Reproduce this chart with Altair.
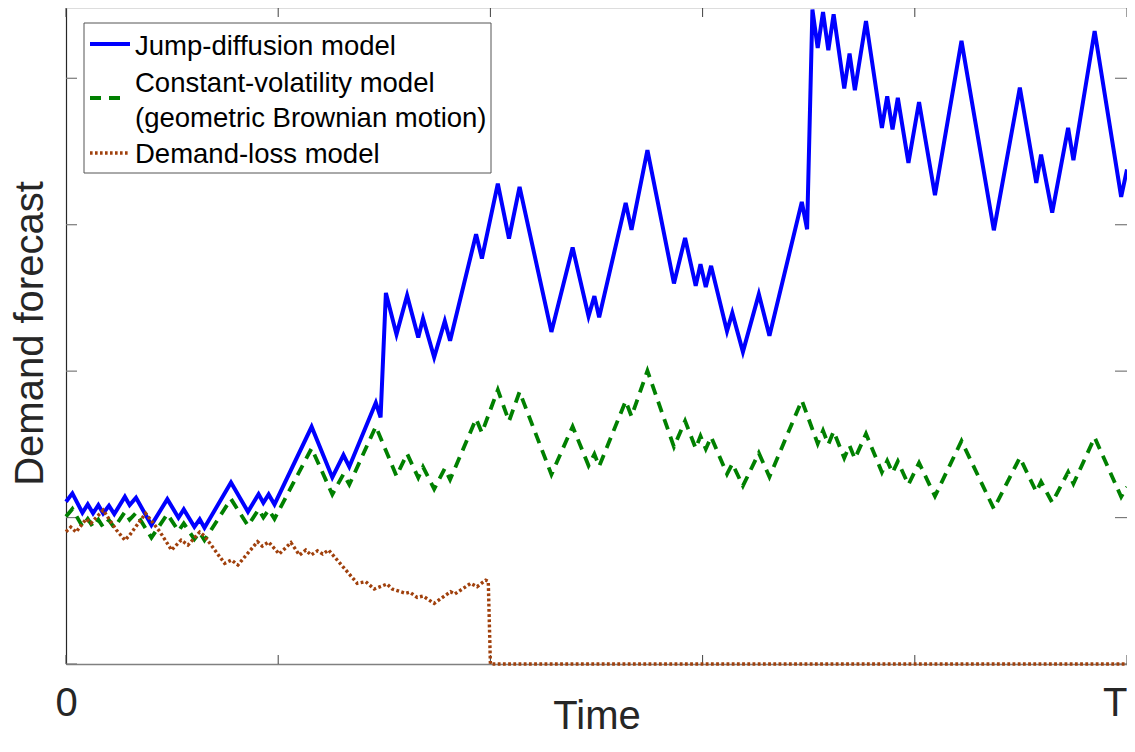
import altair as alt
import pandas as pd

# ---- data (time in steps 0..200, T = 200; values in demand units) ----
blue_t = [0, 1.2, 3.1, 4.1, 5.1, 6.1, 7.0, 8.1, 9.1, 11.1, 12.0, 13.2, 16.1, 19.1, 21.2, 22.2,
          24.2, 25.2, 26.1, 31.1, 34.3, 36.3, 37.2, 38.2, 39.3, 46.3, 50.2, 52.3, 53.4, 58.4,
          59.3, 60.3, 62.3, 64.3, 66.4, 67.3, 69.4, 71.4, 72.4, 77.3, 78.4, 81.4, 83.5, 85.5,
          91.5, 95.5, 98.5, 99.6, 100.5, 105.5, 106.6, 109.6, 114.6, 116.7, 118.7, 119.6, 120.6,
          121.6, 124.6, 125.6, 127.6, 130.6, 132.6, 138.7, 139.7, 140.7, 141.7, 142.7, 143.7,
          144.7, 146.7, 147.7, 148.7, 150.8, 153.8, 154.8, 155.8, 156.8, 158.8, 160.8, 163.8,
          168.8, 174.9, 179.8, 182.9, 183.8, 185.9, 188.9, 189.9, 193.9, 198.9, 200]
blue_v = [1.108, 1.165, 1.033, 1.090, 1.029, 1.085, 1.029, 1.081, 1.024, 1.142, 1.085, 1.135,
          0.949, 1.126, 0.999, 1.056, 0.937, 0.988, 0.930, 1.240, 1.040, 1.160, 1.101, 1.158,
          1.090, 1.620, 1.274, 1.427, 1.347, 1.784, 1.684, 2.534, 2.251, 2.517, 2.230, 2.360,
          2.094, 2.341, 2.207, 2.935, 2.769, 3.281, 2.906, 3.258, 2.268, 2.844, 2.375, 2.512,
          2.367, 3.149, 2.965, 3.509, 2.599, 2.910, 2.582, 2.730, 2.575, 2.719, 2.273, 2.398,
          2.132, 2.526, 2.241, 3.156, 2.969, 4.469, 4.207, 4.453, 4.191, 4.437, 3.930, 4.169,
          3.918, 4.391, 3.661, 3.877, 3.650, 3.866, 3.422, 3.838, 3.201, 4.255, 2.962, 3.937,
          3.285, 3.479, 3.083, 3.661, 3.440, 4.323, 3.190, 3.377]

green_t = [0, 1.2, 3.1, 4.1, 5.1, 6.1, 7.0, 8.1, 9.1, 11.1, 12.0, 13.2, 16.1, 19.1, 21.2, 22.2,
           24.2, 25.2, 26.1, 31.1, 34.3, 36.3, 37.2, 38.2, 39.3, 46.3, 50.2, 52.3, 53.4, 58.4,
           62.3, 64.3, 66.4, 67.3, 69.4, 71.4, 72.4, 77.3, 78.4, 81.4, 83.5, 85.5,
           91.5, 95.5, 98.5, 99.6, 100.5, 105.5, 106.6, 109.6, 114.6, 116.7, 118.7, 119.6, 120.6,
           121.6, 124.6, 125.6, 127.6, 130.6, 132.6, 138.7, 141.7, 142.7, 143.7,
           144.7, 146.7, 147.7, 148.7, 150.8, 153.8, 154.8, 155.8, 156.8, 158.8, 160.8, 163.8,
           168.8, 174.9, 179.8, 182.9, 183.8, 185.9, 188.9, 189.9, 193.9, 198.9, 200]
green_v = [1.007, 1.059, 0.939, 0.991, 0.935, 0.986, 0.935, 0.983, 0.931, 1.038, 0.986, 1.032,
           0.863, 1.024, 0.908, 0.960, 0.852, 0.898, 0.845, 1.127, 0.945, 1.055, 1.001, 1.053,
           0.991, 1.473, 1.158, 1.297, 1.225, 1.622, 1.284, 1.436, 1.272, 1.346,
           1.195, 1.335, 1.259, 1.674, 1.580, 1.872, 1.658, 1.859, 1.294, 1.622, 1.355, 1.433,
           1.350, 1.796, 1.691, 2.002, 1.483, 1.660, 1.473, 1.557, 1.469, 1.551, 1.297, 1.368,
           1.216, 1.441, 1.278, 1.800, 1.505, 1.594, 1.500, 1.588, 1.407, 1.492,
           1.402, 1.572, 1.310, 1.388, 1.306, 1.384, 1.225, 1.374, 1.146, 1.523, 1.060, 1.409,
           1.176, 1.245, 1.103, 1.310, 1.231, 1.547, 1.142, 1.209]

red_t = [0, 0.9, 1.9, 3.8, 4.7, 7.0, 9.5, 11.1, 12.0, 15.0, 16.0, 17.7, 19.9, 21.7, 23.0,
         25.2, 26.1, 29.9, 31.2, 32.4, 36.1, 37.0, 38.2, 40.2, 42.4, 44.0, 45.2, 46.2, 47.4,
         48.4, 49.5, 54.9, 56.5, 58.1, 60.5, 61.5, 64.0, 64.8, 66.2, 67.3, 69.4, 72.5, 73.3,
         76.3, 77.5, 79.1, 79.6, 80.0, 200]
red_v = [0.903, 0.935, 0.901, 0.990, 0.962, 1.051, 0.915, 0.846, 0.880, 1.029, 0.983, 0.903,
         0.778, 0.846, 0.812, 0.901, 0.874, 0.687, 0.710, 0.676, 0.835, 0.805, 0.833, 0.751,
         0.829, 0.744, 0.778, 0.744, 0.773, 0.751, 0.778, 0.551, 0.562, 0.512, 0.546, 0.512,
         0.483, 0.491, 0.455, 0.464, 0.414, 0.494, 0.478, 0.551, 0.528, 0.573, 0.565, 0.0, 0.0]

x_tick_values = [0, 40, 80, 120, 160, 200]
y_tick_values = [0, 1, 2, 3, 4]
x_tick_labels = ["0", "T"]

legend_labels = ["Jump-diffusion model", "Constant-volatility model",
                 "(geometric Brownian motion)", "Demand-loss model"]

# ---- layout ----
W, H = 1061, 656
FONT = "Liberation Sans"
BLUE, GREEN, RED = "#0000ff", "#008000", "#a0400c"

xs = alt.Scale(domain=[0, 200], nice=False, zero=False)
ys = alt.Scale(domain=[0, 4.48], nice=False, zero=False)

x_axis = alt.Axis(values=[0, 200],
                  labelExpr=f"datum.value == 0 ? '{x_tick_labels[0]}' : '{x_tick_labels[1]}'",
                  labelAlign={"condition": {"test": "datum.value == 200", "value": "right"},
                              "value": "center"},
                  ticks=False, tickSize=0, grid=False, labelFlush=False, labelPadding=19,
                  labelFontSize=40, labelFont=FONT, labelColor="#262626",
                  domain=True, domainColor="#808080", domainWidth=1.5,
                  title="Time", titleFontSize=40, titleFont=FONT, titleFontWeight="normal",
                  titleColor="#262626", titleBaseline="alphabetic", titleY=64)
y_axis = alt.Axis(labels=False, ticks=False, tickSize=0, grid=False,
                  domain=True, domainColor="#262626", domainWidth=1.2,
                  title="Demand forecast", titleFontSize=40, titleFont=FONT,
                  titleFontWeight="normal", titleColor="#262626", titleAngle=270,
                  titleBaseline="alphabetic", titleX=-24, titleY=325)


def series(ts, vs, color, width, dash=None):
    df = pd.DataFrame({"t": ts, "v": vs})
    kw = dict(color=color, strokeWidth=width, strokeJoin="miter", strokeCap="butt")
    if dash:
        kw["strokeDash"] = dash
    return alt.Chart(df).mark_line(**kw).encode(
        x=alt.X("t:Q", scale=xs, axis=x_axis),
        y=alt.Y("v:Q", scale=ys, axis=y_axis),
        order="t:Q",
    )


xt = pd.DataFrame({"t": x_tick_values})
yt = pd.DataFrame({"v": y_tick_values})
tick_layers = [
    alt.Chart(xt).mark_rule(color="#404040", strokeWidth=1).encode(
        x=alt.X("t:Q", scale=xs, axis=x_axis), y=alt.value(H), y2=alt.value(H - 9)),
    alt.Chart(xt).mark_rule(color="#404040", strokeWidth=1).encode(
        x=alt.X("t:Q", scale=xs, axis=x_axis), y=alt.value(0), y2=alt.value(9)),
    alt.Chart(yt).mark_rule(color="#7a7a7a", strokeWidth=1.2).encode(
        y=alt.Y("v:Q", scale=ys, axis=y_axis), x=alt.value(0), x2=alt.value(11)),
    alt.Chart(yt).mark_rule(color="#7a7a7a", strokeWidth=1.2).encode(
        y=alt.Y("v:Q", scale=ys, axis=y_axis), x=alt.value(W), x2=alt.value(W - 12)),
]

one = pd.DataFrame({"a": [0]})
legend_box = alt.Chart(one).mark_rect(fill="white", stroke="#555555", strokeWidth=1).encode(
    x=alt.value(18), x2=alt.value(425), y=alt.value(15), y2=alt.value(165))
leg_lines = [
    alt.Chart(one).mark_rule(color=BLUE, strokeWidth=3.8).encode(
        x=alt.value(24), x2=alt.value(64), y=alt.value(36)),
    alt.Chart(one).mark_rule(color=GREEN, strokeWidth=3.8, strokeDash=[11, 8]).encode(
        x=alt.value(24), x2=alt.value(56), y=alt.value(90)),
    alt.Chart(one).mark_rule(color=RED, strokeWidth=3.3, strokeDash=[2.6, 2.4]).encode(
        x=alt.value(24), x2=alt.value(64), y=alt.value(145)),
]
leg_text = [
    alt.Chart(one).mark_text(align="left", baseline="alphabetic", fontSize=27.5, font=FONT,
                             color="black").encode(
        x=alt.value(69), y=alt.value(yy), text=alt.value(lab))
    for lab, yy in zip(legend_labels, [47, 84, 119, 155])
]

chart = alt.layer(
    series(blue_t, blue_v, BLUE, 4.0),
    *tick_layers,
    series(green_t, green_v, GREEN, 3.8, dash=[11, 7.5]),
    series(red_t, red_v, RED, 3.4, dash=[2.8, 2.4]),
    legend_box, *leg_lines, *leg_text,
).properties(
    width=W, height=H,
    autosize=alt.AutoSizeParams(type="none"),
    padding={"left": 58, "top": 0, "right": 0, "bottom": 72},
).configure_view(stroke="#8c8c8c", strokeWidth=1.2).configure(background="white")

chart.save("out.html", embed_options={"renderer": "svg", "actions": False})
